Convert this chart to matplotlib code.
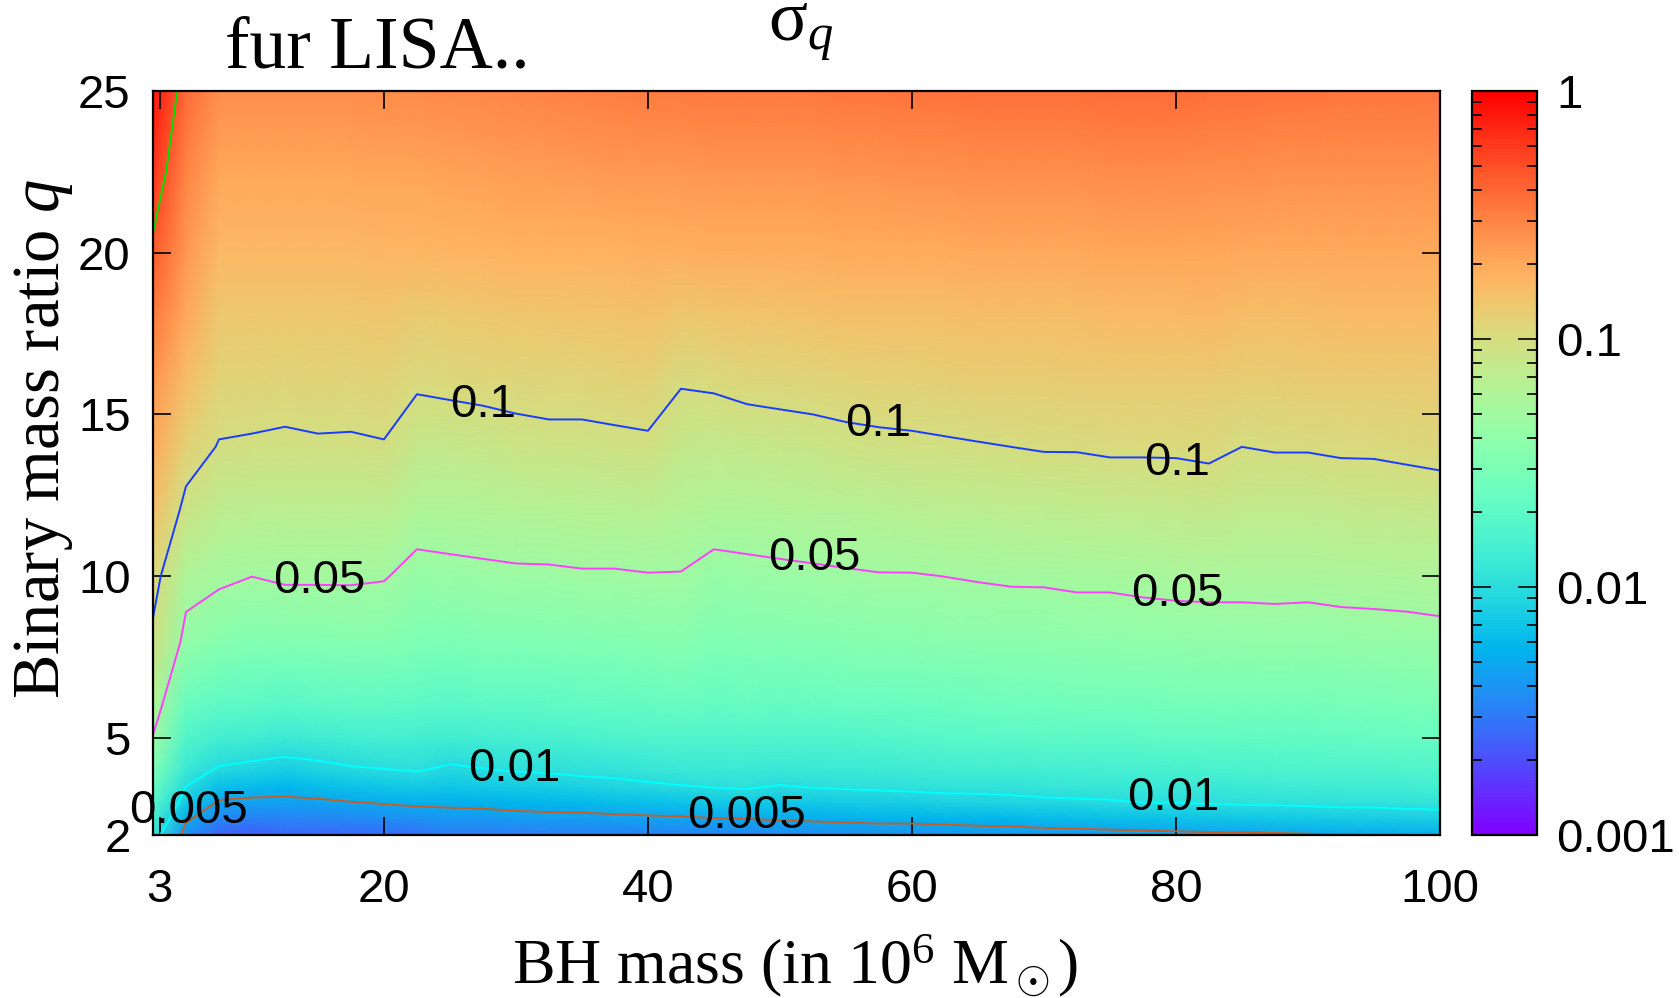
import numpy as np
import matplotlib.pyplot as plt
from matplotlib.colors import LogNorm
from matplotlib.ticker import LogLocator, NullFormatter

# grid nodes: BH mass (in 1e6 Msun) and binary mass ratio q
mass = [2.5, 5, 7.5, 10, 12.5, 15, 17.5, 20, 22.5, 25, 27.5, 30, 32.5, 35, 37.5, 40,
        42.5, 45, 47.5, 50, 52.5, 55, 57.5, 60, 62.5, 65, 67.5, 70, 72.5, 75, 77.5, 80,
        82.5, 85, 87.5, 90, 92.5, 95, 97.5, 100]
q_ratio = [2, 2.5, 3, 3.5, 4, 5, 6, 8, 10, 12, 14, 16, 18, 20, 22.5, 25]

# log10(sigma_q): one row per mass value, entries follow q_ratio
log_sigma = [
    [-1.93, -1.83, -1.72, -1.62, -1.51, -1.31, -1.22, -1.03, -0.95, -0.82, -0.70, -0.60, -0.47, -0.34, -0.20, -0.08],
    [-2.42, -2.27, -2.13, -2.00, -1.90, -1.76, -1.64, -1.38, -1.22, -1.06, -0.92, -0.80, -0.70, -0.62, -0.52, -0.42],
    [-2.62, -2.47, -2.33, -2.18, -2.03, -1.84, -1.69, -1.45, -1.27, -1.14, -1.01, -0.93, -0.86, -0.78, -0.68, -0.57],
    [-2.64, -2.49, -2.35, -2.21, -2.07, -1.86, -1.71, -1.48, -1.30, -1.16, -1.02, -0.93, -0.86, -0.78, -0.68, -0.57],
    [-2.60, -2.48, -2.35, -2.23, -2.10, -1.89, -1.73, -1.47, -1.28, -1.16, -1.03, -0.94, -0.86, -0.78, -0.68, -0.57],
    [-2.60, -2.47, -2.34, -2.20, -2.07, -1.87, -1.71, -1.47, -1.28, -1.15, -1.02, -0.93, -0.86, -0.78, -0.68, -0.57],
    [-2.59, -2.45, -2.31, -2.17, -2.03, -1.84, -1.69, -1.46, -1.28, -1.16, -1.02, -0.94, -0.86, -0.78, -0.68, -0.57],
    [-2.58, -2.43, -2.29, -2.15, -2.01, -1.83, -1.69, -1.46, -1.29, -1.15, -1.01, -0.93, -0.85, -0.77, -0.67, -0.56],
    [-2.56, -2.42, -2.27, -2.13, -1.99, -1.84, -1.71, -1.51, -1.36, -1.23, -1.10, -0.98, -0.88, -0.77, -0.67, -0.56],
    [-2.50, -2.38, -2.27, -2.15, -2.04, -1.86, -1.73, -1.52, -1.35, -1.22, -1.09, -0.97, -0.87, -0.76, -0.66, -0.55],
    [-2.50, -2.38, -2.26, -2.13, -2.01, -1.85, -1.71, -1.50, -1.34, -1.21, -1.08, -0.96, -0.86, -0.76, -0.65, -0.54],
    [-2.50, -2.37, -2.24, -2.12, -1.99, -1.83, -1.70, -1.49, -1.33, -1.20, -1.06, -0.95, -0.85, -0.75, -0.64, -0.53],
    [-2.50, -2.36, -2.23, -2.10, -1.98, -1.82, -1.69, -1.48, -1.33, -1.19, -1.05, -0.94, -0.85, -0.75, -0.64, -0.52],
    [-2.49, -2.36, -2.22, -2.08, -1.96, -1.81, -1.68, -1.48, -1.32, -1.18, -1.05, -0.94, -0.84, -0.74, -0.63, -0.51],
    [-2.49, -2.35, -2.20, -2.06, -1.95, -1.79, -1.67, -1.47, -1.32, -1.18, -1.04, -0.93, -0.84, -0.74, -0.62, -0.50],
    [-2.49, -2.34, -2.18, -2.03, -1.93, -1.78, -1.66, -1.46, -1.31, -1.17, -1.03, -0.92, -0.83, -0.73, -0.61, -0.49],
    [-2.49, -2.33, -2.17, -2.01, -1.91, -1.77, -1.64, -1.45, -1.31, -1.20, -1.10, -0.99, -0.86, -0.73, -0.61, -0.49],
    [-2.48, -2.31, -2.14, -1.99, -1.91, -1.77, -1.66, -1.49, -1.36, -1.23, -1.11, -0.98, -0.85, -0.72, -0.60, -0.48],
    [-2.47, -2.30, -2.13, -1.98, -1.90, -1.76, -1.65, -1.48, -1.35, -1.22, -1.09, -0.96, -0.84, -0.72, -0.60, -0.48],
    [-2.44, -2.29, -2.15, -2.01, -1.92, -1.78, -1.66, -1.48, -1.34, -1.21, -1.08, -0.95, -0.84, -0.72, -0.60, -0.47],
    [-2.43, -2.28, -2.14, -1.99, -1.91, -1.77, -1.65, -1.47, -1.33, -1.20, -1.07, -0.94, -0.83, -0.72, -0.60, -0.47],
    [-2.43, -2.27, -2.12, -1.98, -1.90, -1.76, -1.64, -1.46, -1.32, -1.19, -1.05, -0.93, -0.82, -0.71, -0.59, -0.46],
    [-2.42, -2.26, -2.11, -1.97, -1.89, -1.75, -1.63, -1.45, -1.31, -1.18, -1.04, -0.92, -0.82, -0.71, -0.59, -0.46],
    [-2.42, -2.26, -2.10, -1.96, -1.88, -1.74, -1.63, -1.45, -1.31, -1.17, -1.03, -0.92, -0.81, -0.71, -0.58, -0.45],
    [-2.41, -2.25, -2.08, -1.95, -1.87, -1.73, -1.62, -1.44, -1.30, -1.16, -1.02, -0.91, -0.81, -0.71, -0.58, -0.45],
    [-2.40, -2.24, -2.07, -1.95, -1.86, -1.72, -1.61, -1.43, -1.29, -1.15, -1.01, -0.90, -0.80, -0.70, -0.57, -0.44],
    [-2.40, -2.23, -2.06, -1.94, -1.86, -1.72, -1.60, -1.43, -1.28, -1.14, -1.00, -0.90, -0.80, -0.70, -0.57, -0.44],
    [-2.39, -2.21, -2.04, -1.93, -1.85, -1.71, -1.60, -1.42, -1.28, -1.14, -0.99, -0.90, -0.80, -0.70, -0.57, -0.44],
    [-2.38, -2.20, -2.03, -1.92, -1.84, -1.70, -1.59, -1.41, -1.27, -1.13, -0.99, -0.89, -0.80, -0.70, -0.57, -0.44],
    [-2.37, -2.19, -2.02, -1.92, -1.83, -1.70, -1.58, -1.41, -1.27, -1.12, -0.98, -0.89, -0.79, -0.69, -0.56, -0.43],
    [-2.36, -2.18, -2.00, -1.91, -1.83, -1.69, -1.58, -1.40, -1.26, -1.12, -0.98, -0.88, -0.79, -0.69, -0.56, -0.43],
    [-2.35, -2.17, -2.00, -1.90, -1.82, -1.68, -1.57, -1.40, -1.25, -1.11, -0.98, -0.88, -0.79, -0.69, -0.56, -0.43],
    [-2.34, -2.16, -1.99, -1.90, -1.81, -1.68, -1.57, -1.39, -1.25, -1.10, -0.97, -0.88, -0.78, -0.69, -0.57, -0.44],
    [-2.34, -2.15, -1.98, -1.89, -1.81, -1.67, -1.56, -1.39, -1.25, -1.12, -1.00, -0.90, -0.80, -0.70, -0.57, -0.44],
    [-2.33, -2.14, -1.98, -1.88, -1.80, -1.67, -1.56, -1.38, -1.25, -1.12, -0.99, -0.90, -0.80, -0.70, -0.58, -0.45],
    [-2.32, -2.13, -1.97, -1.88, -1.80, -1.67, -1.56, -1.39, -1.25, -1.12, -0.99, -0.89, -0.80, -0.70, -0.58, -0.45],
    [-2.31, -2.12, -1.96, -1.87, -1.79, -1.66, -1.55, -1.38, -1.24, -1.11, -0.98, -0.89, -0.79, -0.70, -0.58, -0.46],
    [-2.30, -2.11, -1.96, -1.87, -1.79, -1.65, -1.55, -1.37, -1.24, -1.10, -0.98, -0.88, -0.79, -0.70, -0.58, -0.46],
    [-2.29, -2.10, -1.95, -1.86, -1.78, -1.65, -1.54, -1.37, -1.23, -1.09, -0.97, -0.88, -0.79, -0.70, -0.58, -0.46],
    [-2.28, -2.09, -1.94, -1.85, -1.77, -1.64, -1.53, -1.36, -1.22, -1.08, -0.96, -0.88, -0.79, -0.70, -0.58, -0.46],
]

# contour levels and their line colours
levels = [0.005, 0.01, 0.05, 0.1, 0.5]
level_colors = ['#c0602c', '#00ffff', '#ff40ff', '#1a3cff', '#00e000']

# where the level values are written along the lines
label_spots = {
    0.1: [(27.5, 15.3), (57.4, 14.7), (80.1, 13.5)],
    0.05: [(15.1, 9.84), (52.6, 10.57), (80.1, 9.45)],
    0.01: [(29.9, 4.05), (79.8, 3.13)],
    0.005: [(5.2, 2.73), (47.5, 2.6)],
}

xticks = [3, 20, 40, 60, 80, 100]
yticks = [2, 5, 10, 15, 20, 25]
cbar_ticks = [1e-3, 1e-2, 1e-1, 1]
cbar_labels = ['0.001', '0.01', '0.1', '1']

plt.rcParams['font.family'] = 'Liberation Sans'
plt.rcParams['mathtext.fontset'] = 'custom'
plt.rcParams['mathtext.rm'] = 'Liberation Serif'
plt.rcParams['mathtext.it'] = 'Liberation Serif:italic'

sigma = 10 ** np.array(log_sigma).T

fig = plt.figure(figsize=(16.79, 9.98), dpi=100)
ax = fig.add_axes([0.0911, 0.1633, 0.7665, 0.7455])
cax = fig.add_axes([0.8767, 0.1633, 0.0387, 0.7455])

norm = LogNorm(vmin=1e-3, vmax=1)
mesh = ax.pcolormesh(mass, q_ratio, sigma, shading='gouraud', cmap='rainbow', norm=norm)
ax.contour(mass, q_ratio, sigma, levels=levels, colors=level_colors, linewidths=1.4)
for lev, spots in label_spots.items():
    for x, y in spots:
        ax.text(x, y, f'{lev:g}', fontsize=34, ha='center', va='center')

ax.set_xlim(2.5, 100)
ax.set_ylim(2, 25)
ax.set_xticks(xticks)
ax.set_yticks(yticks)
ax.tick_params(direction='in', length=13, width=1.2, top=True, right=True, labelsize=34)
ax.tick_params(axis='x', pad=24)
ax.tick_params(axis='y', pad=16)
for sp in ax.spines.values():
    sp.set_linewidth(1.6)

cb = fig.colorbar(mesh, cax=cax)
cb.set_ticks(cbar_ticks)
cb.set_ticklabels(cbar_labels)
cax.yaxis.set_minor_locator(LogLocator(base=10, subs=range(2, 10)))
cax.yaxis.set_minor_formatter(NullFormatter())
cax.tick_params(which='both', direction='in', left=True, right=True, width=1.2,
                labelsize=34, pad=14)
cax.tick_params(which='major', length=14)
cax.tick_params(which='minor', length=7)
cb.outline.set_linewidth(1.6)

fig.text(225 / 1679, 1 - 67 / 998, 'fur LISA..', family='Liberation Serif',
         fontsize=53, ha='left', va='baseline')
fig.text(768 / 1679, 1 - 41 / 998, 'σ$_q$', family='Liberation Serif',
         fontsize=52, ha='left', va='baseline')
fig.text(0.4735, 0.015, 'BH mass (in 10$^6$ M$_\\odot$)', family='Liberation Serif',
         fontsize=46, ha='center', va='baseline')
fig.text(0.026, 0.56, 'Binary mass ratio $q$', family='Liberation Serif',
         fontsize=48, rotation=90, ha='center', va='center')

fig.savefig('out.png', dpi=100)
